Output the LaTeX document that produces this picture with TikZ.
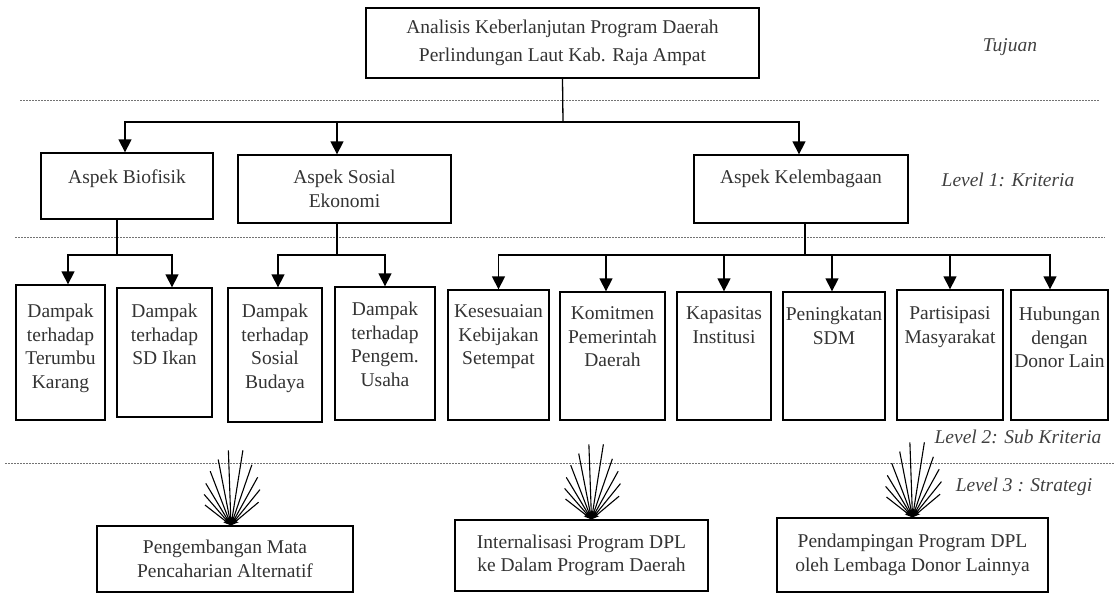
\documentclass[tikz,border=0pt]{standalone}
\usepackage{fontspec}
\setmainfont{Liberation Serif}
\usetikzlibrary{arrows.meta}
\tikzset{
  box/.style={draw=black, line width=1.3pt, inner sep=0pt, text=black!80,
    font=\fontsize{19.5}{23.5}\selectfont},
  conn/.style={draw=black, line width=1.3pt},
  arr/.style={conn, -{Triangle[length=13pt,width=13pt]}},
  fanarr/.style={draw=black, line width=1.1pt, -{Stealth[length=8pt,width=5pt]}},
  dots/.style={draw=black!55, line width=0.9pt, dash pattern=on 1.5pt off 1.5pt},
  lab/.style={font=\fontsize{19.5}{23.5}\selectfont\itshape, text=black!75, inner sep=0pt},
}
% box with text anchored at the top: name, x1, y1, x2, y2, top gap, text
\newcommand{\mybox}[7]{%
  \pgfmathsetmacro{\bw}{#4-#2}\pgfmathsetmacro{\bh}{#5-#3}%
  \pgfmathsetmacro{\bcx}{(#2+#4)/2}\pgfmathsetmacro{\bcy}{(#3+#5)/2}%
  \node[box] (#1) at (\bcx,\bcy)
    {\parbox[c][\bh pt][t]{\bw pt}{\centering\vskip #6pt\relax #7\par}};}
% box with vertically centred text: name, x1, y1, x2, y2, baselineskip, text
\newcommand{\mycbox}[7]{%
  \pgfmathsetmacro{\bw}{#4-#2}\pgfmathsetmacro{\bh}{#5-#3}%
  \pgfmathsetmacro{\bcx}{(#2+#4)/2}\pgfmathsetmacro{\bcy}{(#3+#5)/2}%
  \node[box] (#1) at (\bcx,\bcy)
    {\parbox[c][\bh pt][c]{\bw pt}{\fontsize{19.5}{#6}\selectfont\centering #7\par}};}

\begin{document}
\begin{tikzpicture}[x=1pt,y=-1pt]
\useasboundingbox (0,0) rectangle (1114,605);

% dotted separators
\draw[dots] (20,100) -- (1100,100);
\draw[dots] (15,237) -- (1105,237);
\draw[dots] (5,463) -- (1114,463);

% goal
\mycbox{top}{366}{8}{759}{78}{27.5}{Analisis Keberlanjutan Program Daerah\\Perlindungan Laut Kab. Raja Ampat}

% level 1
\mybox{bio}{41}{153}{213}{219}{17}{Aspek Biofisik}
\mybox{soc}{238}{155}{451}{223}{15}{Aspek Sosial\\[0.5pt]Ekonomi}
\mybox{kel}{694}{155}{908}{223}{15}{Aspek Kelembagaan}

% level 2
\mybox{d1}{16}{285}{105}{420}{19}{Dampak\\terhadap\\Terumbu\\Karang}
\mybox{d2}{117}{288}{212}{417}{16}{Dampak\\terhadap\\SD Ikan}
\mybox{d3}{228}{288}{322}{422}{16}{Dampak\\terhadap\\Sosial\\Budaya}
\mybox{d4}{335}{287}{435}{420}{15}{Dampak\\terhadap\\Pengem.\\Usaha}
\mybox{k1}{448}{290}{549}{420}{15}{Kesesuaian\\Kebijakan\\Setempat}
\mybox{k2}{560}{292}{665}{420}{15}{Komitmen\\Pemerintah\\Daerah}
\mybox{k3}{677}{292}{771}{420}{15}{Kapasitas\\Institusi}
\mybox{k4}{783}{292}{885}{420}{15}{Peningkatan\\SDM}
\mybox{k5}{897}{290}{1003}{420}{17}{Partisipasi\\Masyarakat}
\mybox{k6}{1011}{290}{1108}{420}{17}{Hubungan\\dengan\\Donor Lain}

% level 3
\mycbox{s1}{97}{526}{353}{592}{24}{Pengembangan Mata\\Pencaharian Alternatif}
\mycbox{s2}{455}{520}{708}{591}{23}{Internalisasi Program DPL\\ke Dalam Program Daerah}
\mycbox{s3}{777}{518}{1048}{592}{24}{Pendampingan Program DPL\\oleh Lembaga Donor Lainnya}

% labels
\node[lab] (l0) at (1010,47) {Tujuan};
\node[lab] (l1) at (1008,180) {Level 1: Kriteria};
\node[lab] (l2) at (1018,437) {Level 2: Sub Kriteria};
\node[lab] (l3) at (1024,487) {Level 3 : Strategi};

% goal -> criteria
\coordinate (j0) at (563,122);
\draw[conn] (top.south) -- (j0);
\draw[arr] (j0) -| ([xshift=-2pt]bio.north);
\draw[arr] (j0) -| ([xshift=-7.5pt]soc.north);
\draw[arr] (j0) -| ([xshift=-2pt]kel.north);

% criteria -> sub criteria
\coordinate (jb) at (117,255);
\draw[conn] ([xshift=-10pt]bio.south) -- (jb);
\draw[arr] (jb) -| ([xshift=7.5pt]d1.north);
\draw[arr] (jb) -| ([xshift=7.5pt]d2.north);

\coordinate (js) at (337,255);
\draw[conn] ([xshift=-7.5pt]soc.south) -- (js);
\draw[arr] (js) -| ([xshift=3pt]d3.north);
\draw[arr] (js) -| (d4.north);

\coordinate (jk) at (805,255);
\draw[conn] ([xshift=4pt]kel.south) -- (jk);
\draw[arr] (jk) -| (k1.north);
\draw[arr] (jk) -| ([xshift=-6.5pt]k2.north);
\draw[arr] (jk) -| (k3.north);
\draw[arr] (jk) -| ([xshift=-2pt]k4.north);
\draw[arr] (jk) -| (k5.north);
\draw[arr] (jk) -| ([xshift=-9.5pt]k6.north);

% fans of arrows into strategies
\coordinate (f1) at ([xshift=6pt]s1.north);
\coordinate (f2) at ([xshift=10pt]s2.north);
\coordinate (f3) at (s3.north);
\foreach \f in {f1,f2,f3}{
  \foreach \a/\l in {-52/33,-41/41,-31/49,-21/58,-11/67,-2/75,9/76,19/64,29/55,39/46,50/36}{
    \pgfmathsetmacro{\ang}{90-\a}
    \draw[fanarr] ([shift={(\ang:\l pt)}]\f) -- (\f);
  }
}
\end{tikzpicture}
\end{document}
